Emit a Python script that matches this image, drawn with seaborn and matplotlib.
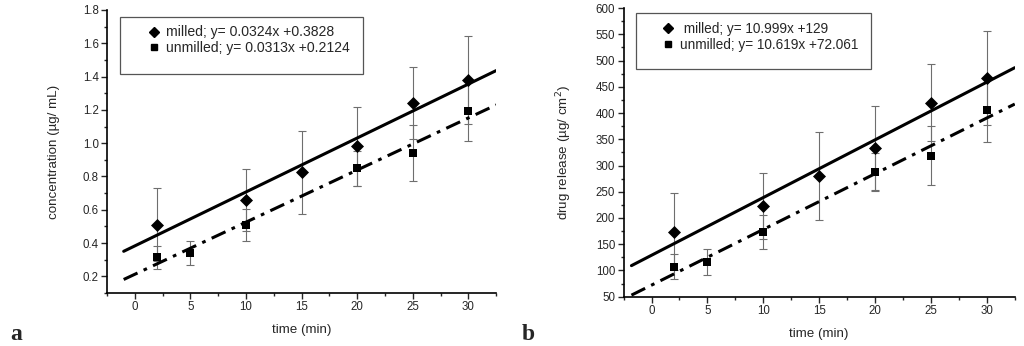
import numpy as np
import pandas as pd
import matplotlib
matplotlib.use("Agg")
import matplotlib.pyplot as plt
from matplotlib.lines import Line2D
from matplotlib.patches import Rectangle
from matplotlib.ticker import MultipleLocator
import seaborn as sns

# ---------------- data ----------------
# panel a: concentration (ug/mL)
a_milled_t = [2, 10, 15, 20, 25, 30]
a_milled_y = [0.51, 0.66, 0.825, 0.98, 1.24, 1.38]
a_milled_err = [0.22, 0.185, 0.25, 0.24, 0.215, 0.265]
a_unmilled_t = [2, 5, 10, 20, 25, 30]
a_unmilled_y = [0.315, 0.34, 0.51, 0.85, 0.94, 1.195]
a_unmilled_err = [0.07, 0.072, 0.095, 0.105, 0.17, 0.18]
a_fit_slope = [0.0324, 0.0313]
a_fit_intercept = [0.3828, 0.2124]
a_legend = ["milled; y= 0.0324x +0.3828", "unmilled; y= 0.0313x +0.2124"]

# panel b: drug release (ug/cm2)
b_milled_t = [2, 10, 15, 20, 25, 30]
b_milled_y = [174, 223, 280, 333, 420, 467]
b_milled_err = [74, 63, 84, 80, 73, 90]
b_unmilled_t = [2, 5, 10, 20, 25, 30]
b_unmilled_y = [107, 116, 173, 288, 319, 405]
b_unmilled_err = [24, 24, 32, 36, 57, 61]
b_fit_slope = [10.999, 10.619]
b_fit_intercept = [129, 72.061]
b_legend = [" milled; y= 10.999x +129", "unmilled; y= 10.619x +72.061"]

x_ticks = [0, 5, 10, 15, 20, 25, 30]

sns.set_style("ticks")
plt.rcParams["font.family"] = ["Liberation Sans", "DejaVu Sans"]

fig = plt.figure(figsize=(10.24, 3.46), dpi=100)
ax_a = fig.add_axes([0.1045, 0.1532, 0.380, 0.818])
ax_b = fig.add_axes([0.609, 0.1425, 0.382, 0.834])

ERR_COLOR = "#6e6e6e"


def panel(ax, mt, my, me, ut, uy, ue, slopes, inters, fit_x, labels,
          ylim, ymaj, ymin_, ylabel, legend_box, legend_anchor, ylabelpad, xlabelpad, lfs):
    # error bars
    ax.errorbar(mt, my, yerr=me, fmt="none", ecolor=ERR_COLOR, elinewidth=0.8,
                capsize=3, capthick=0.8, zorder=2)
    ax.errorbar(ut, uy, yerr=ue, fmt="none", ecolor=ERR_COLOR, elinewidth=0.8,
                capsize=3, capthick=0.8, zorder=2)
    # points
    dm = pd.DataFrame({"t": mt, "y": my})
    du = pd.DataFrame({"t": ut, "y": uy})
    sns.scatterplot(data=dm, x="t", y="y", marker="D", s=44, color="black",
                    edgecolor="black", linewidth=0, ax=ax, zorder=4)
    sns.scatterplot(data=du, x="t", y="y", marker="s", s=40, color="black",
                    edgecolor="black", linewidth=0, ax=ax, zorder=4)
    # fit lines
    xs = np.array(fit_x)
    fm = pd.DataFrame({"t": xs, "y": slopes[0] * xs + inters[0]})
    fu = pd.DataFrame({"t": xs, "y": slopes[1] * xs + inters[1]})
    sns.lineplot(data=fm, x="t", y="y", color="black", lw=2.2, ax=ax, zorder=3)
    sns.lineplot(data=fu, x="t", y="y", color="black", lw=2.2, ax=ax, zorder=3)
    ax.lines[-1].set_dashes([5, 2.2, 1.2, 2.2])

    ax.set_xlim(-2.5, 32.5)
    ax.set_ylim(*ylim)
    ax.set_xticks(x_ticks)
    ax.xaxis.set_minor_locator(MultipleLocator(2.5))
    ax.yaxis.set_major_locator(MultipleLocator(ymaj))
    ax.yaxis.set_minor_locator(MultipleLocator(ymin_))
    ax.tick_params(which="major", direction="out", length=4, width=1, labelsize=8.3, pad=2)
    ax.tick_params(which="minor", direction="out", length=2.5, width=1)
    for s in ["top", "right"]:
        ax.spines[s].set_visible(False)
    for s in ["left", "bottom"]:
        ax.spines[s].set_linewidth(1.2)
        ax.spines[s].set_color("black")
    ax.set_xlabel("time (min)", fontsize=9.6, labelpad=xlabelpad)
    ax.set_ylabel(ylabel, fontsize=9.6, labelpad=ylabelpad)

    x0, y0, x1, y1 = legend_box
    ax.add_patch(Rectangle((x0, y0), x1 - x0, y1 - y0, transform=ax.transAxes,
                           fill=False, edgecolor="#555555", lw=0.9, zorder=5))
    handles = [Line2D([], [], marker="D", color="black", ls="none", markersize=5.5),
               Line2D([], [], marker="s", color="black", ls="none", markersize=5)]
    ax.legend(handles, labels, loc="upper left", bbox_to_anchor=legend_anchor,
              frameon=False, fontsize=lfs, handletextpad=0.3, labelspacing=0.12,
              borderpad=0, handlelength=1.2)


panel(ax_a, a_milled_t, a_milled_y, a_milled_err, a_unmilled_t, a_unmilled_y,
      a_unmilled_err, a_fit_slope, a_fit_intercept, [-1.0, 32.5], a_legend,
      (0.1, 1.8), 0.2, 0.1, "concentration (µg/ mL)",
      (0.033, 0.774, 0.658, 0.975), (0.08, 0.97), 16, 8, 10.1)
panel(ax_b, b_milled_t, b_milled_y, b_milled_err, b_unmilled_t, b_unmilled_y,
      b_unmilled_err, b_fit_slope, b_fit_intercept, [-1.8, 32.5], b_legend,
      (50, 600), 50, 25, "drug release (µg/ cm$^2$)",
      (0.032, 0.789, 0.632, 0.982), (0.075, 0.975), 16, 8, 9.8)

fig.text(10 / 1024, 1 - 340 / 346, "a", family=["Liberation Serif", "DejaVu Serif"],
         fontsize=17, fontweight="bold", ha="left", va="baseline")
fig.text(522 / 1024, 1 - 340 / 346, "b", family=["Liberation Serif", "DejaVu Serif"],
         fontsize=17, fontweight="bold", ha="left", va="baseline")

fig.savefig("out.png", dpi=100)
